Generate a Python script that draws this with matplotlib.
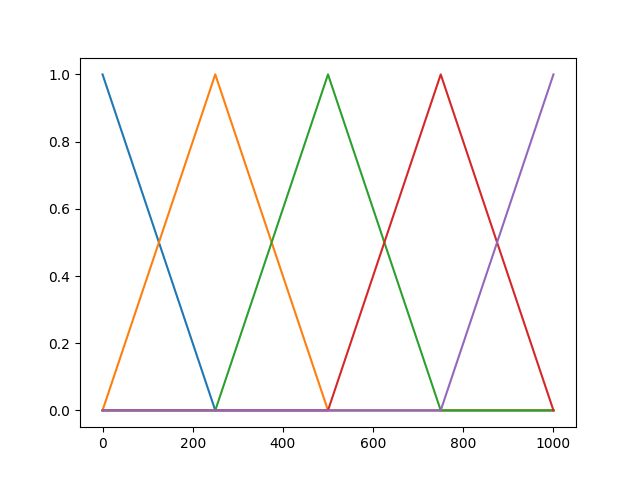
import numpy as np
import matplotlib
matplotlib.use('Agg')
import matplotlib.pyplot as plt

x = [0, 250, 500, 750, 1000]

# membership values at each breakpoint
mf1 = [1.0, 0.0, 0.0, 0.0, 0.0]
mf2 = [0.0, 1.0, 0.0, 0.0, 0.0]
mf3 = [0.0, 0.0, 1.0, 0.0, 0.0]
mf4 = [0.0, 0.0, 0.0, 1.0, 0.0]
mf5 = [0.0, 0.0, 0.0, 0.0, 1.0]

fig, ax = plt.subplots(figsize=(6.4, 4.8), dpi=100)
for y in [mf1, mf2, mf3, mf4, mf5]:
    ax.plot(x, y)

plt.savefig('out.png')
